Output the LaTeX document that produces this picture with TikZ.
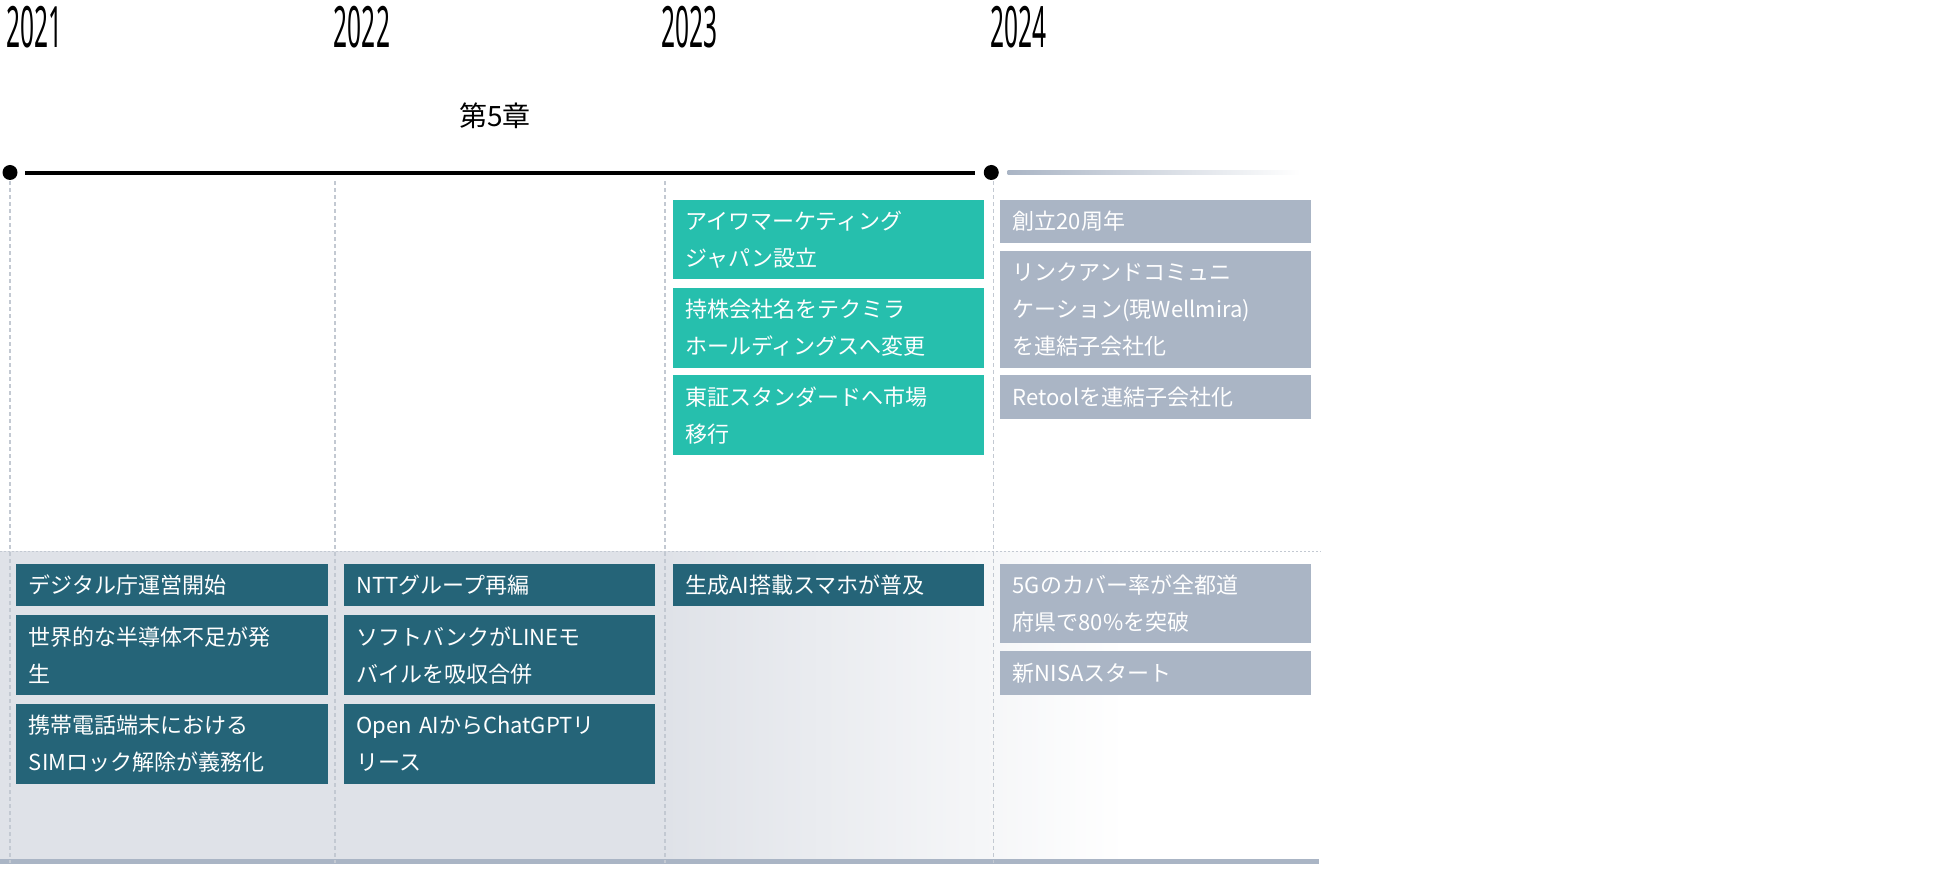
\documentclass[tikz,border=0pt]{standalone}
\usepackage{fontspec}
\setmainfont{Noto Sans CJK JP}
\newfontfamily\yearfont{Noto Sans}
\definecolor{teal1}{HTML}{26BFAD}
\definecolor{dteal}{HTML}{256478}
\definecolor{greyb}{HTML}{AAB5C5}
\definecolor{band}{HTML}{DFE2E8}
\definecolor{vline}{HTML}{C3C9D2}
\tikzset{
 evbox/.style={anchor=north west, inner xsep=12.5pt, inner ysep=0pt, align=left, text=white,
   font=\fontsize{22pt}{37pt}\selectfont},
 yearlbl/.style={anchor=north west, inner sep=0pt},
 vdash/.style={vline, line width=1.2pt, dash pattern=on 4pt off 3pt},
}
% name, x1, y1, x2, y2, color, text
\newcommand{\evb}[7]{\node[evbox, fill=#6, minimum width={(#4-#2)*1.25pt}, minimum height={(#5-#3)*1.25pt}, text width={(#4-#2-20)*1.25pt}] (#1) at (#2,#3) {#7};}
\begin{document}
\begin{tikzpicture}[x=1.25pt,y=-1.25pt]
\useasboundingbox (0,0) rectangle (1568,699.2);
% band
\fill[band] (0,441) rectangle (532,690);
\shade[left color=band, right color=white] (532,441) rectangle (900,690);
\draw[vline, line width=1.2pt, dash pattern=on 2pt off 2pt] (0,441) -- (1057,441);
\fill[greyb] (0,687.5) rectangle (1055,691);
% vertical dashed
\foreach \x/\n in {8/a,268/b,532/c,795/d} {\draw[vdash] (\x,145) -- (\x,690);}
% years
\foreach \x/\y in {5/2021,267/2022,529/2023,792/2024} {
 \node[yearlbl] (y\y) at (\x,5) {\scalebox{0.43}[1]{\yearfont\fontsize{57pt}{57pt}\selectfont\y}};}
\node (ch) at (396,93) {\fontsize{28pt}{28pt}\selectfont 第5章};
% timeline
\node[circle, fill=black, inner sep=0pt, minimum size=15pt] (d1) at (8,138) {};
\node[circle, fill=black, inner sep=0pt, minimum size=15pt] (d2) at (793,138) {};
\fill[black] (20,136.5) rectangle (780,139.7);
\shade[left color=greyb, right color=white] (806,136.8) rectangle (1040,139.8);
% top boxes
\evb{t1}{538}{160}{787}{223}{teal1}{アイワマーケティング\\ジャパン設立}
\evb{t2}{538}{230}{787}{294}{teal1}{持株会社名をテクミラ\\ホールディングスへ変更}
\evb{t3}{538}{300}{787}{364}{teal1}{東証スタンダードへ市場\\移行}
\evb{g1}{800}{160}{1049}{194}{greyb}{創立20周年}
\evb{g2}{800}{201}{1049}{294}{greyb}{リンクアンドコミュニ\\ケーション(現Wellmira)\\を連結子会社化}
\evb{g3}{800}{300}{1049}{335}{greyb}{Retoolを連結子会社化}
% bottom boxes
\evb{b1}{13}{451}{262}{485}{dteal}{デジタル庁運営開始}
\evb{b2}{13}{492}{262}{556}{dteal}{世界的な半導体不足が発\\生}
\evb{b3}{13}{563}{262}{627}{dteal}{携帯電話端末における\\SIMロック解除が義務化}
\evb{c1}{275}{451}{524}{485}{dteal}{NTTグループ再編}
\evb{c2}{275}{492}{524}{556}{dteal}{ソフトバンクがLINEモ\\バイルを吸収合併}
\evb{c3}{275}{563}{524}{627}{dteal}{Open AIからChatGPTリ\\リース}
\evb{e1}{538}{451}{787}{485}{dteal}{生成AI搭載スマホが普及}
\evb{f1}{800}{451}{1049}{514}{greyb}{5Gのカバー率が全都道\\府県で80\%を突破}
\evb{f2}{800}{521}{1049}{556}{greyb}{新NISAスタート}
\end{tikzpicture}
\end{document}
